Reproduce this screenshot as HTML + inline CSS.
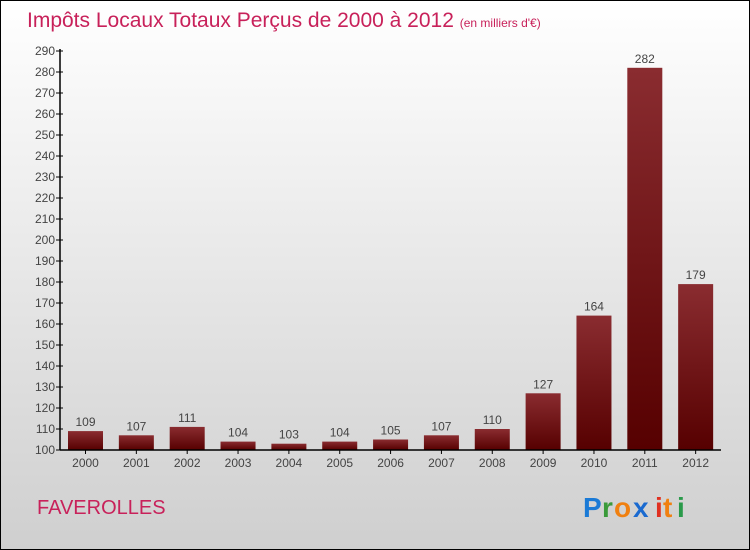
<!DOCTYPE html>
<html><head><meta charset="utf-8"><style>
body{margin:0}
#w{position:relative;width:748px;height:548px;border:1px solid #000;background:linear-gradient(#fff,#cfcfcf);font-family:"Liberation Sans",sans-serif;overflow:hidden}
</style></head><body>
<div id="w">
<svg width="748" height="548" viewBox="0 0 748 548" style="position:absolute;left:0;top:0" id="svg">
<defs><linearGradient id="bg" x1="0" y1="0" x2="0" y2="1"><stop offset="0" stop-color="#8a2c30"/><stop offset="1" stop-color="#560000"/></linearGradient></defs>
<text x="26" y="26" font-size="21" fill="#c8215a">Impôts Locaux Totaux Perçus de 2000 à 2012 <tspan font-size="12">(en milliers d'€)</tspan></text>
<text x="36" y="513" font-size="20" fill="#c8215a">FAVEROLLES</text>
<g font-size="28" font-weight="bold">
<text x="582" y="516" fill="#1a7ad6">P</text><text x="601" y="516" fill="#3a9a3a">r</text><text x="613" y="516" fill="#f08010">o</text><text x="632" y="516" fill="#1a6ad0">x</text><text x="654" y="516" fill="#e03020">i</text><text x="662" y="516" fill="#f08010">t</text><text x="676" y="516" fill="#2a9a4a">i</text>
</g>
<g id="plot"></g>
</svg>
</div>
<script>
const years=["2000","2001","2002","2003","2004","2005","2006","2007","2008","2009","2010","2011","2012"];
const values=[109,107,111,104,103,104,105,107,110,127,164,282,179];
const yTicks=[100,110,120,130,140,150,160,170,180,190,200,210,220,230,240,250,260,270,280,290];
const NS="http://www.w3.org/2000/svg";
const g=document.getElementById('plot');
const x0=59,x1=720,slot=(x1-x0)/years.length;
const y=v=>449-(v-100)*(399/190);
function mk(t,a){const e=document.createElementNS(NS,t);for(const k in a)e.setAttribute(k,a[k]);g.appendChild(e);return e;}
yTicks.forEach(v=>{
 const l=mk('line',{x1:x0-4,x2:x0+3,y1:y(v),y2:y(v),stroke:'#000'});
 
 
 const t=mk('text',{x:x0-5,y:y(v)+4,'text-anchor':'end','font-size':12,fill:'#444'});
 t.textContent=v;
 
 
});
years.forEach((yr,i)=>{
 const bx=x0+i*slot+8,v=values[i];
 const r=mk('rect',{x:bx,y:y(v),width:35,height:y(100)-y(v),fill:'url(#bg)'});
 
 
 const vt=mk('text',{x:bx+17.5,y:y(v)-5,'text-anchor':'middle','font-size':12,fill:'#444'});
 vt.textContent=v;
 
 
 const xt=mk('text',{x:bx+17.5,y:466,'text-anchor':'middle','font-size':12,fill:'#444'});
 xt.textContent=yr;
 
 
 const tk=mk('line',{x1:bx+17.5,x2:bx+17.5,y1:449,y2:453,stroke:'#000'});
 
 
});
const ya=mk('line',{x1:x0,x2:x0,y1:y(290)-2,y2:449,stroke:'#000','stroke-width':1.5});


const xa=mk('line',{x1:x0,x2:x1,y1:449,y2:449,stroke:'#000','stroke-width':1.5});


</script>
</body></html>
